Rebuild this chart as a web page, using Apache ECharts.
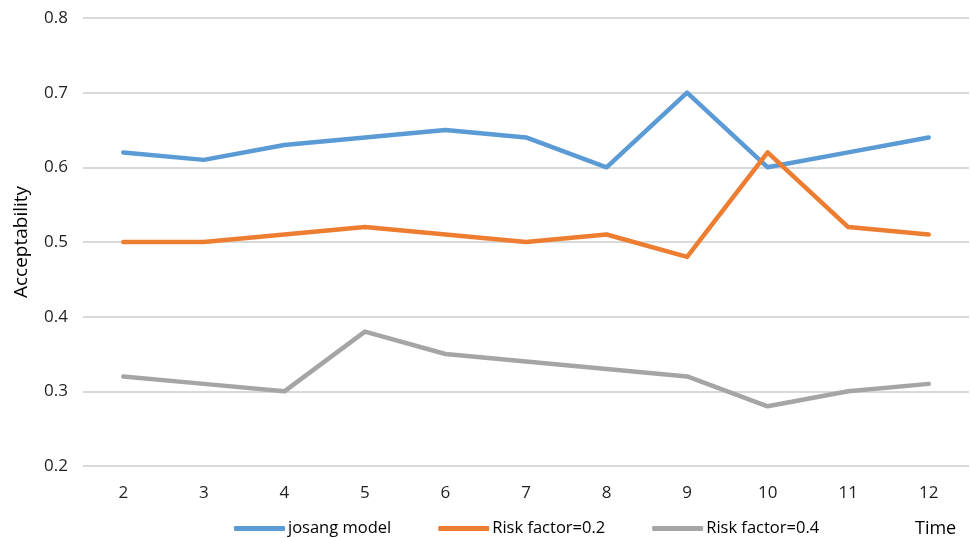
<!DOCTYPE html>
<html>
<head>
<meta charset="utf-8">
<script src="https://cdn.jsdelivr.net/npm/echarts@6/dist/echarts.min.js"></script>
<style>
  html, body { margin: 0; padding: 0; background: #fff; }
  #chart { width: 970px; height: 538px; }
</style>
</head>
<body>
<div id="chart"></div>
<script>
// Time steps on the x axis
var times = ['2', '3', '4', '5', '6', '7', '8', '9', '10', '11', '12'];

// Acceptability per model
var josangModel = [0.62, 0.61, 0.63, 0.64, 0.65, 0.64, 0.60, 0.70, 0.60, 0.62, 0.64];
var riskFactor02 = [0.50, 0.50, 0.51, 0.52, 0.51, 0.50, 0.51, 0.48, 0.62, 0.52, 0.51];
var riskFactor04 = [0.32, 0.31, 0.30, 0.38, 0.35, 0.34, 0.33, 0.32, 0.28, 0.30, 0.31];

var seriesNames = ['josang model', 'Risk factor=0.2', 'Risk factor=0.4'];
var colors = ['#5B9BD5', '#ED7D31', '#A5A5A5'];

var tickColor = '#1f1f1f';
var fontFam = '"Open Sans", "Noto Sans", sans-serif';

function lineSeries(name, data, color) {
  return {
    name: name,
    type: 'line',
    data: data,
    showSymbol: false,
    symbol: 'none',
    lineStyle: { width: 4.5, color: color, cap: 'round', join: 'round' },
    itemStyle: { color: color },
    silent: true
  };
}

var chart = echarts.init(document.getElementById('chart'));
chart.setOption({
  animation: false,
  grid: { left: 83, right: 1, top: 18, bottom: 72, containLabel: false },
  xAxis: {
    type: 'category',
    data: times,
    boundaryGap: true,
    axisLine: { show: false },
    axisTick: { show: false },
    axisLabel: { color: tickColor, fontSize: 17, fontFamily: fontFam, margin: 19 }
  },
  yAxis: {
    type: 'value',
    min: 0.2,
    max: 0.8,
    interval: 0.1,
    name: 'Acceptability',
    nameLocation: 'middle',
    nameGap: 52,
    nameRotate: 90,
    nameTextStyle: { color: '#000', fontSize: 19, fontFamily: fontFam },
    axisLine: { show: false },
    axisTick: { show: false },
    axisLabel: {
      color: tickColor, fontSize: 17, fontFamily: fontFam, margin: 15,
      formatter: function (v) { return v.toFixed(1); }
    },
    splitLine: { lineStyle: { color: '#D9D9D9', width: 2 } }
  },
  legend: {
    data: seriesNames,
    left: 229,
    top: 515,
    padding: 5,
    icon: 'roundRect',
    itemWidth: 51,
    itemHeight: 5,
    itemGap: 47,
    textStyle: { color: '#000', fontSize: 16.5, fontFamily: fontFam, padding: [0, 0, 0, -2] }
  },
  graphic: [{
    type: 'text',
    left: 915,
    top: 520,
    style: { text: 'Time', fill: '#000', fontSize: 18, fontFamily: fontFam }
  }],
  series: [
    lineSeries(seriesNames[0], josangModel, colors[0]),
    lineSeries(seriesNames[1], riskFactor02, colors[1]),
    lineSeries(seriesNames[2], riskFactor04, colors[2])
  ]
});
</script>
</body>
</html>
